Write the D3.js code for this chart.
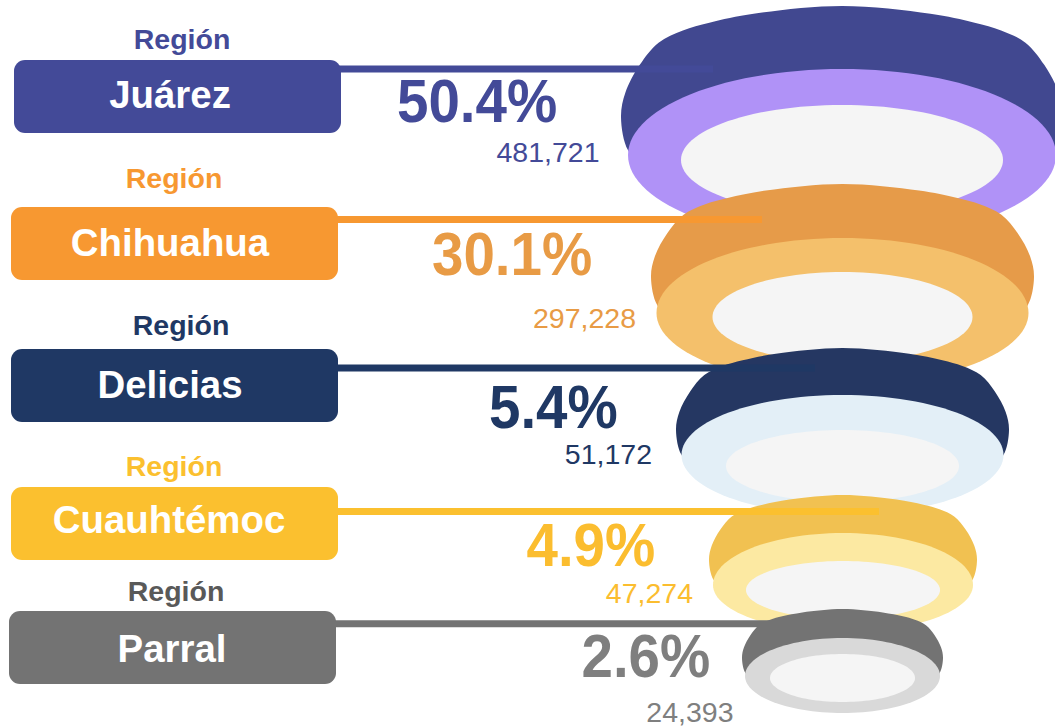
<!DOCTYPE html>
<html><head><meta charset="utf-8">
<script src="https://cdn.jsdelivr.net/npm/d3@7"></script>
<style>html,body{margin:0;background:#fff;overflow:hidden}svg{display:block}text{font-family:"Liberation Sans",Arial,sans-serif}</style>
</head><body><svg id="c" width="1055" height="727"></svg>
<script>
// data
const categories = ["Juárez","Chihuahua","Delicias","Cuauhtémoc","Parral"];
const shares = [50.4,30.1,5.4,4.9,2.6];
const counts = [481721,297228,51172,47274,24393];
const tagLabel = "Región";
// colours
const boxColors = ["#434a98","#f79831","#1f3864","#fbc02f","#737373"];
const tagColors = ["#434a98","#f79831","#1f3864","#fbc02f","#595959"];
const textColors = ["#434a98","#e89b45","#1f3864","#fbbd2f","#7f7f7f"];
const darkColors = ["#414890","#e69b49","#253762","#f1c151","#737373"];
const lightColors = ["#b092f7","#f4c06b","#e3eff7","#fce9a2","#d9d9d9"];
const innerColor = "#f5f5f5";
// layout (per category, via ordinal scales)
const o = r => d3.scaleOrdinal(categories, r);
const boxX = o([14,11,11,11,9]), boxY = o([60,207,349,487,611]);
const tagX = o([182,174,181,174,176]), tagY = o([49,188,335,476,601]);
const nameX = o([170,170,170,169,172]), nameY = o([108,256,398,533,662]);
const pctX = o([397,432,489,526.5,581.5]), pctY = o([122,275,428,566,677]);
const cntX = o([599.5,636,652,693,733.5]), cntY = o([161.5,328,464,603,722]);
const lineY = o([69,219.5,368,511.5,623.8]), lineEnd = o([713,762,815,879,780]);
const cx = o([842,842.5,842.5,843,842.5]);
const darkHalf = o([221,191.5,166.5,134,100.5]), darkTop = o([6,184,348,495,609]), darkWide = o([117,277,430,560,658]);
const lightRx = o([214,186,161,130,97.5]), lightTop = o([69,238,395,533,638]), lightCy = o([155,313,455,585,676]), lightRyB = o([86,72,60,47,37]);
const innerRx = o([161,130,116.5,97,72.5]), innerCy = o([160,317,466,590,678]), innerRy = o([55,45,36,29,24]);
const boxW = 327, boxH = 73;
const pctStretch = 1.07;
// unit profile of the upper shell
const halfProfile = [[.9,1.42],[.968,1.3],[1,1],[.98,.78],[.915,.53],[.83,.33],[.72,.22],[.6,.15],[.4,.07]];
const profile = [...halfProfile,[0,0],...halfProfile.slice().reverse().map(([u,v])=>[-u,v])];

const svg = d3.select("#c");
const fmtCount = d3.format(","), fmtPct = d => d3.format(".1f")(d)+"%";
const angles = d3.range(0,360,3).map(d=>d*Math.PI/180);

categories.forEach((c,i)=>{
  const g = svg.append("g");
  const sx = d3.scaleLinear([-1,1],[cx(c)-darkHalf(c),cx(c)+darkHalf(c)]);
  const sy = d3.scaleLinear([0,1],[darkTop(c),darkWide(c)]);
  g.append("path").attr("fill",darkColors[i])
    .attr("d",d3.line(d=>sx(d[0]),d=>sy(d[1])).curve(d3.curveCatmullRomClosed.alpha(.5))(profile));
  const ring = (rx,cy,ryT,ryB)=>d3.line(
      a=>cx(c)+rx*Math.cos(a),
      a=>cy+(Math.sin(a)<0?ryT:ryB)*Math.sin(a)).curve(d3.curveLinearClosed)(angles);
  g.append("path").attr("fill",lightColors[i]).attr("d",ring(lightRx(c),lightCy(c),lightCy(c)-lightTop(c),lightRyB(c)));
  g.append("path").attr("fill",innerColor).attr("d",ring(innerRx(c),innerCy(c),innerRy(c),innerRy(c)));
  g.append("line").attr("x1",boxX(c)+boxW-6).attr("x2",lineEnd(c)).attr("y1",lineY(c)).attr("y2",lineY(c))
    .attr("stroke",boxColors[i]).attr("stroke-width",7);
});
categories.forEach((c,i)=>{
  const g = svg.append("g");
  g.append("rect").attr("x",boxX(c)).attr("y",boxY(c)).attr("width",boxW).attr("height",boxH).attr("rx",11).attr("fill",boxColors[i]);
  const t = (x,y,s,size,weight,fill,anchor,k=1)=>g.append("text").attr("transform",`translate(${x},${y}) scale(1,${k})`).attr("font-size",size)
    .attr("font-weight",weight).attr("fill",fill).attr("text-anchor",anchor).text(s);
  t(tagX(c),tagY(c),tagLabel,28.5,700,tagColors[i],"middle");
  t(nameX(c),nameY(c),c,38.4,700,"#fff","middle");
  t(pctX(c),pctY(c),fmtPct(shares[i]),56.5,700,textColors[i],"start",pctStretch);
  t(cntX(c),cntY(c),fmtCount(counts[i]),28.5,400,textColors[i],"end");
});
</script></body></html>
